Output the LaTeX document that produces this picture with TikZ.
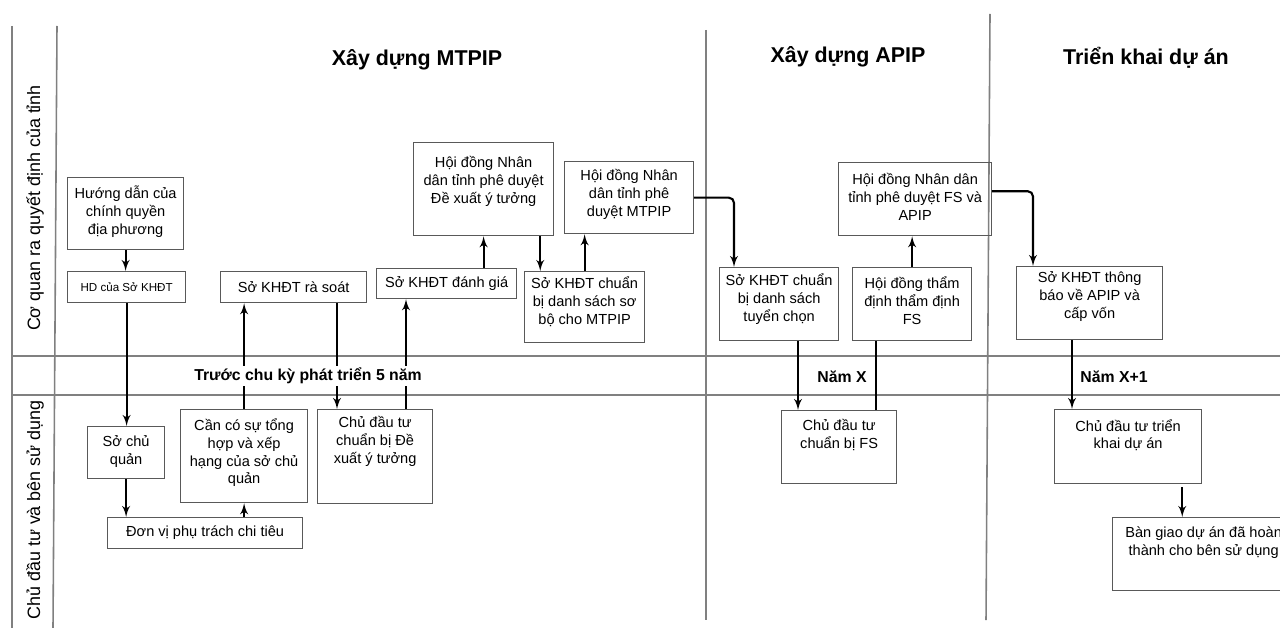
\documentclass[tikz,border=0pt]{standalone}
\usepackage{fontspec}
\setmainfont{Liberation Sans}
\usetikzlibrary{arrows}
\usetikzlibrary{calc}
\definecolor{lanegray}{rgb}{0.5, 0.5, 0.5}
\definecolor{boxgray}{rgb}{0.35, 0.35, 0.35}
\newcommand{\cell}[4][4.5pt]{\parbox[t][\dimexpr 0.02cm*#3\relax][t]{\dimexpr 0.02cm*#2\relax}{\centering\vspace{#1}#4}}
\newcommand{\cellc}[3]{\parbox[t][\dimexpr 0.02cm*#2\relax][c]{\dimexpr 0.02cm*#1\relax}{\centering #3}}

\begin{document}
\begin{tikzpicture}[x=0.02cm, y=-0.02cm,
    box/.style={draw=boxgray, line width=0.7pt, inner sep=0pt, anchor=north west, font=\fontsize{8.3}{10.2}\selectfont},
    arr/.style={-latex', line width=1.2pt},
    plain/.style={line width=1.2pt},
    lane/.style={draw=lanegray, line width=0.9pt},
    title/.style={font=\fontsize{12.2}{14}\selectfont\bfseries},
    band/.style={font=\fontsize{9}{11}\selectfont\bfseries, fill=white, inner sep=1pt},
    lanelabel/.style={rotate=90, font=\fontsize{10.2}{12}\selectfont}]
    \useasboundingbox [fill=white] (0,0) rectangle (1280,628);

    % swimlane grid
    \draw [lane] (12,26) -- (12,628);
    \draw [lane] (57,26) -- (53,628);
    \draw [lane] (706,30) -- (706,620);
    \draw [lane] (990,14) -- (986,620);
    \draw [lane] (12,356) -- (1280,356);
    \draw [lane] (12,395) -- (1280,395);

    \node [lanelabel] (tinh) at (35,208) {Cơ quan ra quyết định của tỉnh};
    \node [lanelabel] (chudautu) at (35,510) {Chủ đầu tư và bên sử dụng};

    \node [title] (mtpip) at (417,60) {Xây dựng MTPIP};
    \node [title] (apip) at (848,57) {Xây dựng APIP};
    \node [title] (trienkhaiDA) at (1146,58) {Triển khai dự án};

    % boxes
    \node [box] (huongdan) at (67,177) {\cell{116}{72}{Hướng dẫn của\\chính quyền\\địa phương}};
    \node [box, font=\fontsize{6.6}{8}\selectfont] (hdso) at (67,271) {\cellc{118}{31}{HD của Sở KHĐT}};
    \node [box] (rasoat) at (220,271) {\cellc{146}{31}{Sở KHĐT rà soát}};
    \node [box] (danhgia) at (376,268) {\cellc{140}{30}{Sở KHĐT đánh giá}};
    \node [box] (hdndyt) at (413,142) {\cell[8pt]{140}{93}{Hội đồng Nhân\\dân tỉnh phê duyệt\\Đề xuất ý tưởng}};
    \node [box] (hdndmt) at (564,161) {\cell{129}{72}{Hội đồng Nhân\\dân tỉnh phê\\duyệt MTPIP}};
    \node [box] (dssobo) at (524,271) {\cell[3pt]{120}{71}{Sở KHĐT chuẩn\\bị danh sách sơ\\bộ cho MTPIP}};
    \node [box] (dstuyen) at (719,267) {\cell[3.5pt]{119}{73}{Sở KHĐT chuẩn\\bị danh sách\\tuyển chọn}};
    \node [box] (thamdinh) at (852,267) {\cell[5pt]{119}{73}{Hội đồng thẩm\\định thẩm định\\FS}};
    \node [box] (hdndfs) at (838,162) {\cell[6pt]{153}{73}{Hội đồng Nhân dân\\tỉnh phê duyệt FS và\\APIP}};
    \node [box] (thongbao) at (1016,266) {\cell[3pt]{146}{73}{Sở KHĐT thông\\báo về APIP và\\cấp vốn}};
    \node [box] (socq) at (87,426) {\cell[5pt]{77}{52}{Sở chủ\\quản}};
    \node [box] (tonghop) at (180,409) {\cell[5pt]{127}{93}{Cần có sự tổng\\hợp và xếp\\hạng của sở chủ\\quản}};
    \node [box] (dexuat) at (317,409) {\cell[4pt]{115}{94}{Chủ đầu tư\\chuẩn bị Đề\\xuất ý tưởng}};
    \node [box] (donvi) at (107,517) {\cellc{195}{31}{Đơn vị phụ trách chi tiêu}};
    \node [box] (chuanbifs) at (781,410) {\cell[5pt]{115}{73}{Chủ đầu tư\\chuẩn bị FS}};
    \node [box] (trienkhai) at (1054,409) {\cell[5.5pt]{147}{74}{Chủ đầu tư triển\\khai dự án}};
    \node [box] (bangiao) at (1112,517) {\cell[5pt]{182}{73}{Bàn giao dự án đã hoàn\\thành cho bên sử dụng}};

    % flow
    \draw [arr] (huongdan.south) -- (huongdan.south |- hdso.north);
    \draw [arr] (hdso.south) -- (hdso.south |- socq.north);
    \draw [arr] (socq.south) -- (socq.south |- donvi.north);
    \draw [arr] (tonghop.south |- donvi.north) -- (tonghop.south);
    \draw [arr] (tonghop.north) -- (tonghop.north |- rasoat.south);
    \coordinate (f1) at ($(rasoat.south west)+(117,0)$);
    \draw [arr] (f1) -- (f1 |- dexuat.north);
    \coordinate (g1) at ($(danhgia.south west)+(30,0)$);
    \draw [arr] (g1 |- dexuat.north) -- (g1);
    \draw [arr] (danhgia.north -| hdndyt.south) -- (hdndyt.south);
    \coordinate (i1) at ($(hdndyt.south east)+(-14,0)$);
    \draw [arr] (i1) -- (i1 |- dssobo.north);
    \draw [arr] (dssobo.north) -- (dssobo.north |- hdndmt.south);
    \draw [arr, rounded corners=3pt] (hdndmt.east) -| ($(dstuyen.north west)+(15,0)$);
    \coordinate (l1) at ($(chuanbifs.north west)+(17,0)$);
    \draw [arr] (l1 |- dstuyen.south) -- (l1);
    \coordinate (m1) at ($(chuanbifs.north west)+(95,0)$);
    \draw [plain] (m1) -- (m1 |- thamdinh.south);
    \draw [arr] (thamdinh.north) -- (thamdinh.north |- hdndfs.south);
    \draw [arr, rounded corners=3pt] ([yshift=4.5pt]hdndfs.east) -| ($(thongbao.north west)+(17,0)$);
    \coordinate (p1) at ($(trienkhai.north west)+(18,0)$);
    \draw [arr] (p1 |- thongbao.south) -- (p1);
    \coordinate (q1) at ($(trienkhai.south east)+(-20,3)$);
    \draw [arr] (q1) -- (q1 |- bangiao.north);

    \node [band] (truoc) at (308,376) {Trước chu kỳ phát triển 5 năm};
    \node [band] (namx) at (842,377) {Năm X};
    \node [band] (namx1) at (1114,377) {Năm X+1};
\end{tikzpicture}
\end{document}
